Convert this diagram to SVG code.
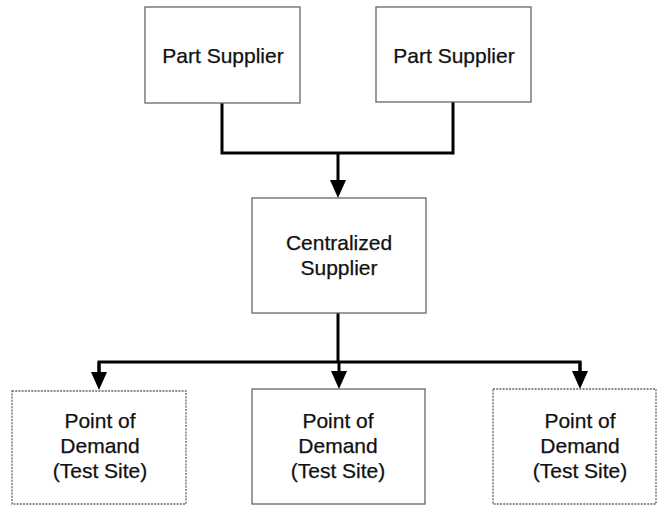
<svg xmlns="http://www.w3.org/2000/svg" width="659" height="506" viewBox="0 0 659 506">
<style>
.box{fill:#fff;stroke:#666;stroke-width:1.3}
.dot{fill:#fff;stroke:#666;stroke-width:1.3;stroke-dasharray:2 1.2}
.lbl{font-family:"Liberation Sans",Arial,sans-serif;font-size:21px;fill:#111;stroke:#111;stroke-width:0.25;text-anchor:middle}
.con{fill:none;stroke:#000;stroke-width:3;stroke-linejoin:miter}
</style>
<defs>
<marker id="arr" markerUnits="userSpaceOnUse" viewBox="0 0 18 16" refX="0" refY="8" markerWidth="18" markerHeight="16" orient="auto">
<path d="M0,0 L18,8 L0,16 z" fill="#000"/>
</marker>
</defs>
<g id="connectors">
<path class="con" d="M222,103 V153 H453 V102"/>
<path class="con" d="M338,153 V180" marker-end="url(#arr)"/>
<path class="con" d="M338,313 V362"/>
<path class="con" d="M99,372 V362 H580 V371"/>
<path class="con" d="M99,362 V372" marker-end="url(#arr)"/>
<path class="con" d="M580,362 V371" marker-end="url(#arr)"/>
<path class="con" d="M339,362 V371" marker-end="url(#arr)"/>
</g>
<g id="supplier1">
<rect class="box" x="145" y="7" width="155" height="96"/>
<text class="lbl" x="223" y="63">Part Supplier</text>
</g>
<g id="supplier2">
<rect class="box" x="376" y="7" width="155" height="95"/>
<text class="lbl" x="454" y="63">Part Supplier</text>
</g>
<g id="central">
<rect class="box" x="252" y="198" width="174" height="115"/>
<text class="lbl" x="339" y="250">Centralized</text>
<text class="lbl" x="339" y="275">Supplier</text>
</g>
<g id="demand1">
<rect class="dot" x="12" y="391" width="174" height="113"/>
<text class="lbl" x="100" y="428">Point of</text>
<text class="lbl" x="100" y="453">Demand</text>
<text class="lbl" x="100" y="478">(Test Site)</text>
</g>
<g id="demand2">
<rect class="box" x="252" y="389" width="173" height="115"/>
<text class="lbl" x="338" y="428">Point of</text>
<text class="lbl" x="338" y="453">Demand</text>
<text class="lbl" x="338" y="478">(Test Site)</text>
</g>
<g id="demand3">
<rect class="dot" x="493" y="389" width="163" height="115"/>
<text class="lbl" x="580" y="428">Point of</text>
<text class="lbl" x="580" y="453">Demand</text>
<text class="lbl" x="580" y="478">(Test Site)</text>
</g>
</svg>
